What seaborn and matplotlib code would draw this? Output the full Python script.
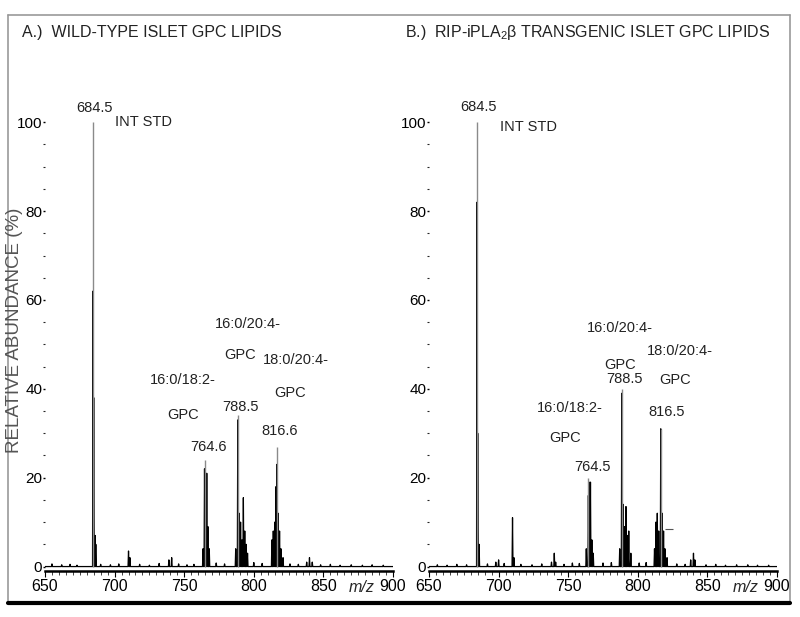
import numpy as np
import pandas as pd
import matplotlib
matplotlib.use("Agg")
import matplotlib.pyplot as plt
from matplotlib.lines import Line2D
import seaborn as sns

# ---- data ----
panel_titles = ["A.)  WILD-TYPE ISLET GPC LIPIDS",
                "B.)  RIP-iPLA$_2$\u03b2 TRANSGENIC ISLET GPC LIPIDS"]

# labelled centroid peaks (m/z, relative abundance %)
wt_label_mz = [684.5, 764.6, 788.5, 816.6]
wt_label_h = [100, 24, 34, 27]
tg_label_mz = [684.5, 764.5, 788.5, 816.5]
tg_label_h = [100, 20, 40, 31]

# profile peaks, wild type
wt_mz = [684.5, 685.0, 686.0, 686.5, 710.0, 711.0, 739.0, 741.0, 763.5, 764.6,
         765.5, 766.2, 767.0, 768.0, 787.0, 788.5, 789.5, 790.5, 791.5, 792.5,
         793.5, 794.5, 795.5, 813.0, 814.0, 815.0, 816.0, 816.6, 817.5, 818.5,
         819.5, 821.0, 838.0, 840.0, 842.0]
wt_h = [62, 38, 7, 5, 3.5, 2, 1.5, 2, 4, 22,
        13, 21, 9, 4, 4, 33, 12, 10, 6, 15.5,
        8, 5, 3, 6, 8, 10, 18, 23, 12, 8,
        4, 2, 1, 2, 1]
wt_noise_mz = [655, 662, 668, 673, 690, 697, 703, 718, 725, 732, 746, 752, 757,
               773, 779, 800, 806, 826, 832, 848, 855, 862, 870, 878, 885, 893]
wt_noise_h = [0.6, 0.4, 0.5, 0.3, 0.5, 0.4, 0.6, 0.5, 0.3, 0.7, 0.6, 0.4, 0.5,
              0.8, 0.6, 0.9, 0.7, 0.6, 0.5, 0.4, 0.5, 0.3, 0.4, 0.3, 0.4, 0.3]

# profile peaks, transgenic
tg_mz = [684.5, 685.0, 686.0, 698.0, 700.0, 710.0, 711.0, 738.0, 740.0, 741.0,
         753.0, 763.0, 764.5, 765.0, 766.0, 767.0, 768.0, 787.0, 788.5, 789.5,
         790.5, 791.5, 792.5, 793.5, 795.0, 812.0, 813.0, 814.0, 815.0, 816.5,
         817.5, 818.5, 819.5, 821.0, 838.0, 840.0, 841.0]
tg_h = [82, 30, 5, 1, 1.5, 11, 2, 1, 3, 1,
        0.8, 4, 16, 19, 19, 6, 3, 4, 39, 14,
        9, 13.5, 7, 8, 3, 4, 10, 12, 8, 31,
        12, 8, 4, 2, 1.5, 3, 1.5]
tg_noise_mz = [656, 663, 670, 677, 692, 704, 716, 724, 731, 747, 758, 775,
               781, 801, 806, 828, 834, 849, 856, 863, 871, 879, 886, 894]
tg_noise_h = [0.4, 0.3, 0.5, 0.4, 0.6, 0.7, 0.5, 0.4, 0.6, 0.5, 0.7, 0.8,
              0.9, 0.8, 0.9, 0.6, 0.5, 0.4, 0.5, 0.3, 0.4, 0.4, 0.3, 0.3]

# annotations: (text, m/z, abundance)
wt_notes = [("684.5", 685.9, 103.2), ("16:0/18:2-", 749.1, 42.0), ("GPC", 749.1, 34.0),
            ("764.6", 767.1, 27.0), ("16:0/20:4-", 796.0, 54.6), ("GPC", 790.0, 47.6),
            ("788.5", 790.1, 36.0), ("18:0/20:4-", 830.0, 46.5), ("GPC", 826.0, 39.1),
            ("816.6", 818.8, 30.6)]
tg_notes = [("684.5", 685.9, 103.4), ("16:0/20:4-", 787.2, 53.7), ("GPC", 787.2, 45.4),
            ("788.5", 790.8, 42.3), ("18:0/20:4-", 830.3, 48.6), ("GPC", 826.7, 42.0),
            ("816.5", 821.0, 34.8), ("16:0/18:2-", 751.3, 35.7), ("GPC", 747.7, 29.0),
            ("764.5", 767.1, 22.5)]
int_std_pos = [(700.3, 100.0), (701.0, 98.9)]

y_ticks = [0, 20, 40, 60, 80, 100]
x_ticks = [650, 700, 750, 800, 850, 900]

# ---- style ----
sns.set_theme(style="white")
plt.rcParams["font.family"] = ["Liberation Sans", "DejaVu Sans"]
plt.rcParams["mathtext.fontset"] = "custom"
plt.rcParams["mathtext.rm"] = "Liberation Sans"
plt.rcParams["mathtext.it"] = "Liberation Sans:italic"

fig = plt.figure(figsize=(8, 6.17), dpi=100)
W, H = 800, 617


def fx(px):
    return px / W


def fy(py):
    return 1 - py / H


def profile(mz, h, noise_mz, noise_h):
    pk = sorted(zip(list(mz) + list(noise_mz), list(h) + list(noise_h)))
    xs, ys = [650], [0]
    for m, v in pk:
        xs += [m - 0.35, m, m + 0.35]
        ys += [0, v, 0]
    xs.append(900)
    ys.append(0)
    return pd.DataFrame({"mz": xs, "abund": ys})


panels = [
    (45, wt_mz, wt_h, wt_noise_mz, wt_noise_h, wt_label_mz, wt_label_h, wt_notes),
    (429, tg_mz, tg_h, tg_noise_mz, tg_noise_h, tg_label_mz, tg_label_h, tg_notes),
]

for i, (left_px, mz, h, nmz, nh, lmz, lh, notes) in enumerate(panels):
    ax = fig.add_axes([fx(left_px), fy(571), 348 / W, 471 / H])
    ax.set_facecolor("none")
    df = profile(mz, h, nmz, nh)
    sns.lineplot(data=df, x="mz", y="abund", sort=False, estimator=None,
                 color="black", linewidth=0.9, ax=ax)
    ax.vlines(lmz, 0, lh, color="#8a8a8a", linewidth=1.0)
    ax.set_xlim(650, 900)
    ax.set_ylim(-1, 105)
    ax.set_xlabel("")
    ax.set_ylabel("")
    for s in ["top", "right", "left"]:
        ax.spines[s].set_visible(False)
    ax.spines["bottom"].set_color("black")
    ax.spines["bottom"].set_linewidth(1.8)
    ax.set_xticks(x_ticks)
    ax.set_xticks(np.arange(650, 901, 5), minor=True)
    ax.set_yticks(y_ticks)
    ax.set_yticks(np.arange(0, 101, 5), minor=True)
    ax.tick_params(axis="x", which="major", direction="out", length=4, width=0.8,
                   labelsize=11.5, pad=2, colors="black")
    ax.tick_params(axis="x", which="minor", direction="out", length=3, width=0.6)
    ax.tick_params(axis="y", which="major", direction="out", length=1.5, width=1,
                   labelsize=11, pad=0.5, colors="black")
    ax.tick_params(axis="y", which="minor", direction="out", length=1.5, width=0.8)
    ax.tick_params(axis="both", which="both", bottom=True, left=True)
    ax.text(887, -3.0, "m/z", style="italic", fontsize=11.5, ha="right", va="top",
            transform=ax.transData)
    for txt, x, y in notes:
        ax.text(x, y, txt, fontsize=10.5, ha="center", va="center", color="#222222")
    sx, sy = int_std_pos[i]
    ax.text(sx, sy, "INT STD", fontsize=10.5, ha="left", va="center", color="#222222")
    if i == 1:
        ax.hlines(8.4, 819.5, 825.5, color="#555555", linewidth=0.8)
    fig.text(fx(22 if i == 0 else 405), fy(33), panel_titles[i], fontsize=11.5,
             ha="left", va="center", color="#222222")

fig.text(fx(14.5), fy(330), "RELATIVE ABUNDANCE (%)", rotation=90, fontsize=13.5,
         color="#555555", ha="center", va="center")

# outer frame of the figure panel
fig.add_artist(Line2D([fx(8), fx(790)], [fy(15), fy(15)], color="#999999", lw=1.2))
fig.add_artist(Line2D([fx(8), fx(8)], [fy(15), fy(603)], color="#999999", lw=1.2))
fig.add_artist(Line2D([fx(790), fx(790)], [fy(15), fy(603)], color="#999999", lw=1.2))
fig.add_artist(Line2D([fx(8), fx(790)], [fy(603), fy(603)], color="black", lw=3))

fig.savefig("out.png", dpi=100)
